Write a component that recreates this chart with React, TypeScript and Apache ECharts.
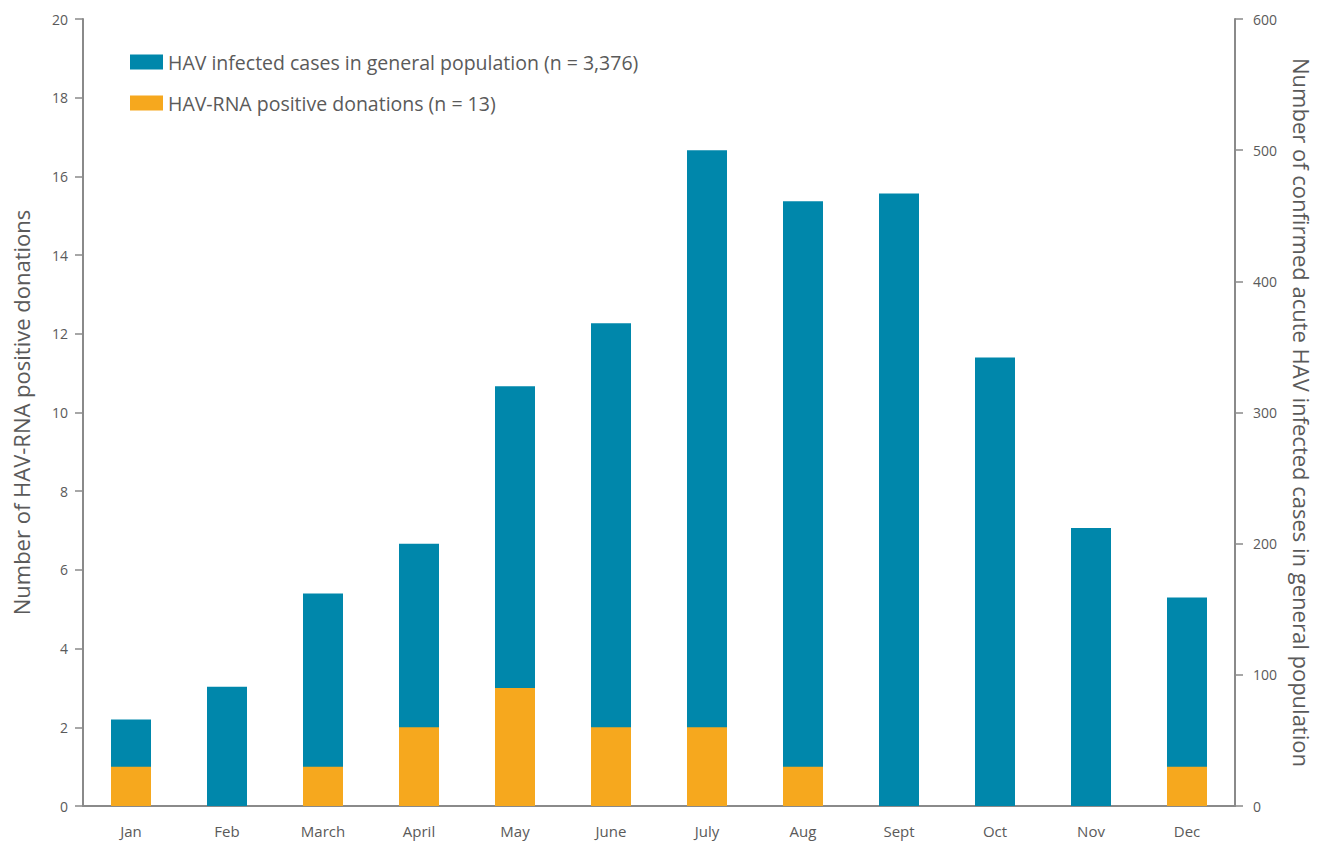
import React, { useEffect, useRef } from "react";
import * as echarts from "echarts";

const months = ["Jan", "Feb", "March", "April", "May", "June", "July", "Aug", "Sept", "Oct", "Nov", "Dec"];
const generalCases = [66, 91, 162, 200, 320, 368, 500, 461, 467, 342, 212, 159];
const positiveDonations = [1, 0, 1, 2, 3, 2, 2, 1, 0, 0, 0, 1];
const casesName = "HAV infected cases in general population (n = 3,376)";
const donationsName = "HAV-RNA positive donations (n = 13)";

const FONT = "'Open Sans', Lato, sans-serif";
const GREY = "#5a5a5a";
const AXIS = "#8a8a8a";

export default function App() {
  const ref = useRef<HTMLDivElement>(null);
  useEffect(() => {
    if (!ref.current) return;
    const chart = echarts.init(ref.current, undefined, { renderer: "svg" });
    chart.setOption({
      animation: false,
      backgroundColor: "#ffffff",
      textStyle: { fontFamily: FONT },
      legend: {
        orient: "vertical",
        left: 125,
        top: 47,
        itemWidth: 33,
        itemHeight: 15,
        itemGap: 21,
        icon: "rect",
        textStyle: { fontSize: 19.5, color: GREY, fontFamily: FONT },
        data: [casesName, donationsName],
      },
      grid: { left: 83, right: 81, top: 19, bottom: 37, containLabel: false },
      xAxis: {
        type: "category",
        data: months,
        axisLine: { lineStyle: { color: AXIS, width: 2 } },
        axisTick: { length: 7, lineStyle: { color: "#555", width: 1.5 } },
        axisLabel: { fontSize: 15, color: GREY, margin: 17, fontFamily: FONT },
      },
      yAxis: [
        {
          type: "value",
          min: 0,
          max: 20,
          interval: 2,
          position: "left",
          name: "Number of HAV-RNA positive donations",
          nameLocation: "middle",
          nameGap: 51,
          nameTextStyle: { fontSize: 22, color: GREY, fontFamily: FONT },
          axisLine: { show: true, lineStyle: { color: AXIS, width: 2 } },
          axisTick: { show: true, length: 8, lineStyle: { color: AXIS, width: 1.5 } },
          axisLabel: { fontSize: 14, color: GREY, margin: 15, fontFamily: FONT },
          splitLine: { show: false },
        },
        {
          type: "value",
          min: 0,
          max: 600,
          interval: 100,
          position: "right",
          name: "Number of confirmed acute HAV infected cases in general population",
          nameLocation: "middle",
          nameGap: 56,
          nameRotate: -90,
          nameTextStyle: { fontSize: 22, color: GREY, fontFamily: FONT },
          axisLine: { show: true, lineStyle: { color: AXIS, width: 2 } },
          axisTick: { show: true, length: 8, lineStyle: { color: AXIS, width: 1.5 } },
          axisLabel: { fontSize: 14, color: GREY, margin: 18, fontFamily: FONT },
          splitLine: { show: false },
        },
      ],
      series: [
        {
          name: casesName,
          type: "bar",
          yAxisIndex: 1,
          data: generalCases,
          barWidth: 40,
          barGap: "-100%",
          itemStyle: { color: "#0087AB" },
        },
        {
          name: donationsName,
          type: "bar",
          yAxisIndex: 0,
          data: positiveDonations,
          barWidth: 40,
          barGap: "-100%",
          itemStyle: { color: "#F6A81E" },
        },
      ],
    });
    return () => chart.dispose();
  }, []);
  return (
    <div
      ref={ref}
      style={{ position: "fixed", left: 0, top: 0, width: 1321, height: 843, background: "#fff" }}
    />
  );
}
